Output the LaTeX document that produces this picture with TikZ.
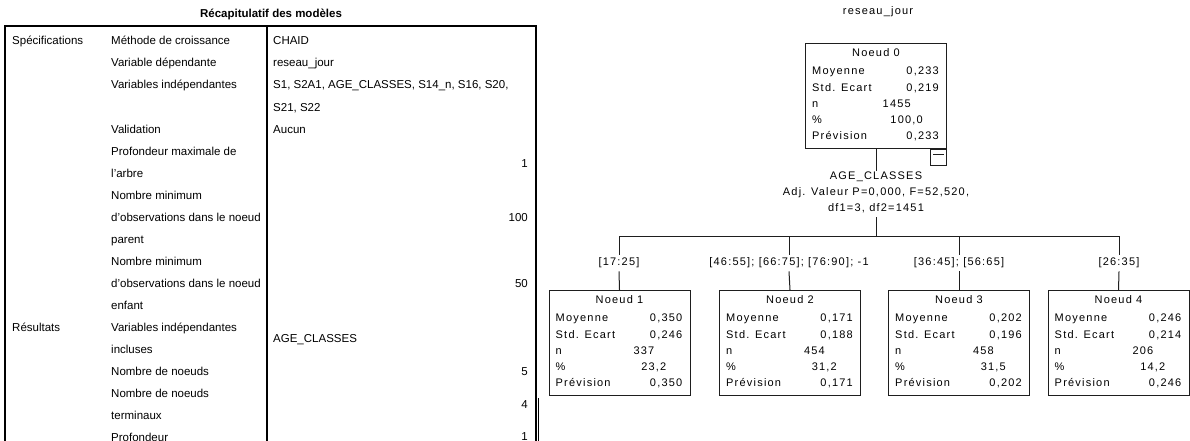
\documentclass[tikz,border=0pt]{standalone}
\usepackage{fontspec}
\setmainfont{Liberation Sans}
\newfontfamily\treefont[LetterSpace=11]{Liberation Sans}
\definecolor{spssline}{RGB}{30,30,30}

\tikzset{
  tab/.style={font=\fontsize{11.5}{13}\selectfont, anchor=west, inner sep=0pt, text height=8.5pt, text depth=2.5pt},
  tabval/.style={tab, anchor=east},
  frame/.style={line width=2pt},
  treetxt/.style={font=\treefont\fontsize{11}{13}\selectfont, inner sep=0pt, text height=8pt, text depth=2.5pt},
  rowlab/.style={treetxt, anchor=west},
  rowval/.style={treetxt, anchor=east},
  nodebox/.style={draw=spssline, line width=1pt, minimum width=141, minimum height=105, inner sep=0pt, anchor=north},
  branch/.style={line width=1pt, spssline},
}

% box of the tree: name, x, top, number, mean, std, n, percent, forecast
\newcommand{\noeudbox}[9]{%
  \node[nodebox] (#1) at (#2,#3) {};
  \node[treetxt] (#1h) at ([yshift=-11]#1.north) {Noeud #4};
  \node[rowlab] (#1a) at ([xshift=7,yshift=-29]#1.north west) {Moyenne};
  \node[rowlab] (#1b) at ([xshift=7,yshift=-45.5]#1.north west) {Std. Ecart};
  \node[rowlab] (#1c) at ([xshift=7,yshift=-61.5]#1.north west) {n};
  \node[rowlab] (#1d) at ([xshift=7,yshift=-77.5]#1.north west) {\%};
  \node[rowlab] (#1e) at ([xshift=7,yshift=-93.5]#1.north west) {Prévision};
  \node[rowval] (#1va) at ([xshift=-8,yshift=-29]#1.north east) {#5};
  \node[rowval] (#1vb) at ([xshift=-8,yshift=-45.5]#1.north east) {#6};
  \node[rowval] (#1vc) at ([xshift=-36,yshift=-61.5]#1.north east) {#7};
  \node[rowval] (#1vd) at ([xshift=-24,yshift=-77.5]#1.north east) {#8};
  \node[rowval] (#1ve) at ([xshift=-8,yshift=-93.5]#1.north east) {#9};
}

\begin{document}
\begin{tikzpicture}[x=1pt,y=-1pt]
\clip (0,0) rectangle (1190,441);
\fill[white] (0,0) rectangle (1190,441);

% model summary table
\node[font=\fontsize{11.5}{13}\selectfont\bfseries, inner sep=0pt] (recap) at (271,14) {Récapitulatif des modèles};
\draw[frame] (5,445) |- (536,26) -- (536,445);
\draw[frame] (267,26) -- (267,445);
\draw[line width=1.5pt] (538.5,398) -- (538.5,445);

\node[tab] (specs) at (12,42) {Spécifications};
\node[tab] (resul) at (12,328) {Résultats};

\foreach \r/\txt [count=\k] in {0/Méthode de croissance, 1/Variable dépendante,
    2/Variables indépendantes, 4/Validation, 5/Profondeur maximale de, 6/l'arbre,
    7/Nombre minimum, 8/d'observations dans le noeud, 9/parent, 10/Nombre minimum,
    11/d'observations dans le noeud, 12/enfant, 13/Variables indépendantes,
    14/incluses, 15/Nombre de noeuds, 16/Nombre de noeuds, 17/terminaux, 18/Profondeur}
  \node[tab] (crit\k) at (111,{42+22*\r}) {\txt};

\node[tab] (methode) at (273,42) {CHAID};
\node[tab] (depvar) at (273,64) {reseau\_jour};
\node[tab] (indep) at (273,86) {S1, S2A1, AGE\_CLASSES, S14\_n, S16, S20,};
\node[tab] (indepb) at (273,108) {S21, S22};
\node[tab] (valid) at (273,130) {Aucun};
\node[tab] (incl) at (273,339) {AGE\_CLASSES};
\node[tabval] (vprof) at (528,164) {1};
\node[tabval] (vparent) at (528,218) {100};
\node[tabval] (venfant) at (528,284) {50};
\node[tabval] (vnoeuds) at (528,372) {5};
\node[tabval] (vterm) at (528,405) {4};
\node[tabval] (vdepth) at (528,437) {1};

% CHAID tree
\node[treetxt] (dep) at (878,12) {reseau\_jour};
\noeudbox{n0}{876}{43}{0}{0,233}{0,219}{1455}{100,0}{0,233}
\node[draw=spssline, line width=1pt, minimum size=16, inner sep=0pt, anchor=north east] (fold) at (n0.south east) {};
\draw[branch] ([xshift=3,yshift=3]fold.west) -- ([xshift=-3,yshift=3]fold.east);

\node[treetxt] (splitvar) at (876,177) {AGE\_CLASSES};
\node[treetxt] (splitstat) at (876,193) {Adj. Valeur P=0,000, F=52,520,};
\node[treetxt] (splitdf) at (876,209) {df1=3, df2=1451};
\coordinate (bus) at (876,236);
\draw[branch] (n0.south) -- ([yshift=1]splitvar.north);
\draw[branch] ([yshift=-3]splitdf.south) -- (bus);

\node[treetxt] (cut1) at (619,263) {[17:25]};
\node[treetxt] (cut2) at (789,263) {[46:55]; [66:75]; [76:90]; -1};
\node[treetxt] (cut3) at (959,263) {[36:45]; [56:65]};
\node[treetxt] (cut4) at (1119,263) {[26:35]};

\noeudbox{n1}{619.5}{290}{1}{0,350}{0,246}{337}{23,2}{0,350}
\noeudbox{n2}{790}{290}{2}{0,171}{0,188}{454}{31,2}{0,171}
\noeudbox{n3}{959}{290}{3}{0,202}{0,196}{458}{31,5}{0,202}
\noeudbox{n4}{1118.5}{290}{4}{0,246}{0,214}{206}{14,2}{0,246}

\draw[branch] (bus) -| ([yshift=3]cut1.north);
\draw[branch] (bus) -| ([yshift=3]cut2.north);
\draw[branch] (bus) -| ([yshift=3]cut3.north);
\draw[branch] (bus) -| ([yshift=3]cut4.north);
\foreach \i in {1,...,4}
  \draw[branch] ([yshift=-3]cut\i.south) -- (n\i.north);
\end{tikzpicture}
\end{document}
